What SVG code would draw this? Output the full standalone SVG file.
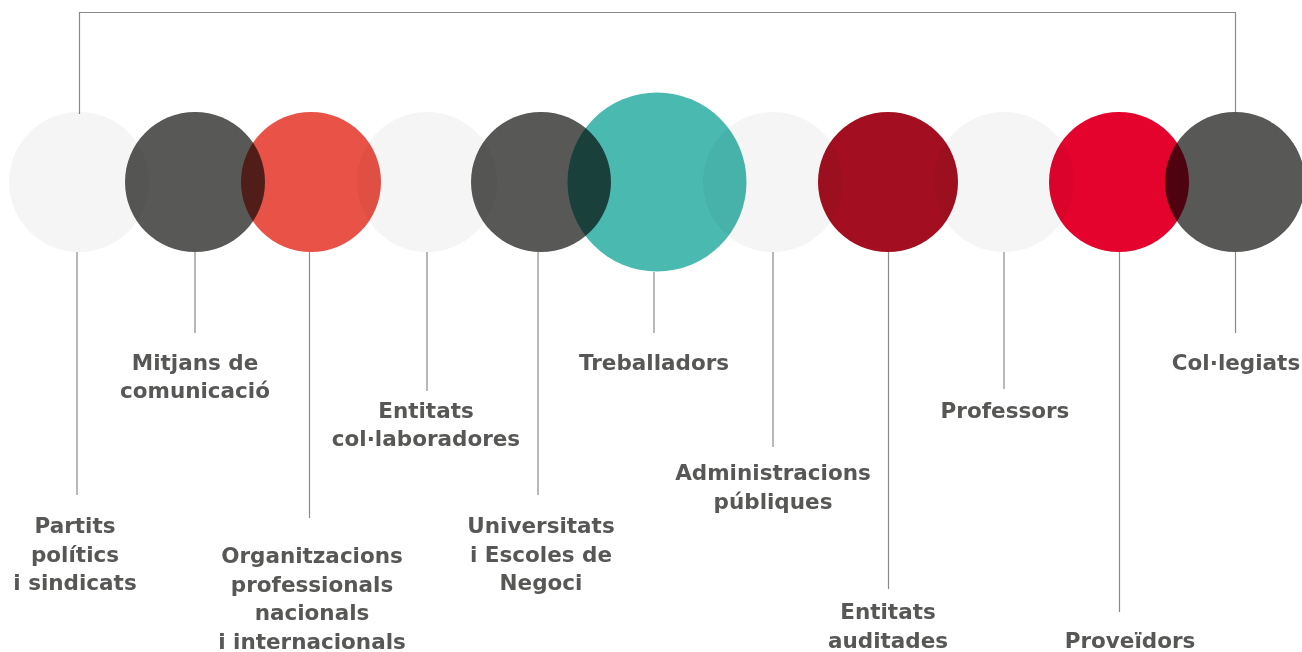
<svg xmlns="http://www.w3.org/2000/svg" width="1302" height="652" viewBox="0 0 1302 652">
<style>
.c{mix-blend-mode:multiply}
.lg{fill:#f5f5f5}.dg{fill:#585857}.rd{fill:#e95246}.tl{fill:#4ab9b0}.dr{fill:#a30f20}.br{fill:#e4032d}
.ln{stroke:#8a8a8a;stroke-width:1.2;fill:none}
text{font-family:"DejaVu Sans","Liberation Sans",sans-serif;font-weight:bold;font-size:21.5px;fill:#575756;text-anchor:middle}
</style>
<rect width="1302" height="652" fill="#fff"/>
<g id="connectors">
<path class="ln" d="M79.5 114V12.5H1235.5V112"/>
<line class="ln" x1="77" y1="252" x2="77" y2="495"/>
<line class="ln" x1="195" y1="252" x2="195" y2="333"/>
<line class="ln" x1="309.5" y1="252" x2="309.5" y2="518"/>
<line class="ln" x1="427" y1="252" x2="427" y2="391"/>
<line class="ln" x1="538" y1="252" x2="538" y2="495"/>
<line class="ln" x1="654" y1="272" x2="654" y2="333"/>
<line class="ln" x1="773" y1="252" x2="773" y2="447"/>
<line class="ln" x1="888.5" y1="252" x2="888.5" y2="589"/>
<line class="ln" x1="1004" y1="252" x2="1004" y2="389"/>
<line class="ln" x1="1119.5" y1="252" x2="1119.5" y2="612"/>
<line class="ln" x1="1235.5" y1="252" x2="1235.5" y2="333"/>
</g>
<g id="n1"><circle class="c lg" cx="79" cy="182" r="70"/><text x="75" y="533">Partits</text><text x="75" y="562">polítics</text><text x="75" y="590">i sindicats</text></g>
<g id="n2"><circle class="c dg" cx="195" cy="182" r="70"/><text x="195" y="370">Mitjans de</text><text x="195" y="398">comunicació</text></g>
<g id="n3"><circle class="c rd" cx="311" cy="182" r="70"/><text x="312" y="563">Organitzacions</text><text x="312" y="592">professionals</text><text x="312" y="620">nacionals</text><text x="312" y="649">i internacionals</text></g>
<g id="n4"><circle class="c lg" cx="427" cy="182" r="70"/><text x="426" y="418">Entitats</text><text x="426" y="446">col·laboradores</text></g>
<g id="n5"><circle class="c dg" cx="541" cy="182" r="70"/><text x="541" y="533">Universitats</text><text x="541" y="562">i Escoles de</text><text x="541" y="590">Negoci</text></g>
<g id="n6"><circle class="c tl" cx="657" cy="182" r="89.5"/><text x="654" y="370">Treballadors</text></g>
<g id="n7"><circle class="c lg" cx="773" cy="182" r="70"/><text x="773" y="480">Administracions</text><text x="773" y="509">públiques</text></g>
<g id="n8"><circle class="c dr" cx="888" cy="182" r="70"/><text x="888" y="619">Entitats</text><text x="888" y="648">auditades</text></g>
<g id="n9"><circle class="c lg" cx="1004" cy="182" r="70"/><text x="1005" y="418">Professors</text></g>
<g id="n10"><circle class="c br" cx="1119" cy="182" r="70"/><text x="1130" y="648">Proveïdors</text></g>
<g id="n11"><circle class="c dg" cx="1235" cy="182" r="70"/><text x="1236" y="370">Col·legiats</text></g>
</svg>
